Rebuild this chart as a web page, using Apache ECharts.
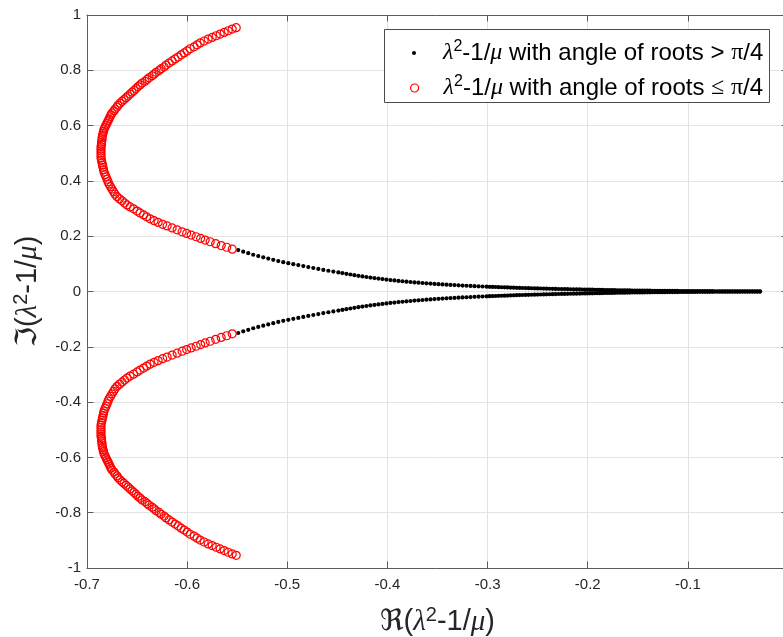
<!DOCTYPE html>
<html>
<head>
<meta charset="utf-8">
<script src="https://cdn.jsdelivr.net/npm/echarts@6/dist/echarts.min.js"></script>
<style>
html,body{margin:0;padding:0;background:#fff;}
#chart{width:783px;height:637px;}
</style>
</head>
<body>
<div id="chart"></div>
<script>
// ---------- data ----------
const xMin = -0.7, xMax = 0, xInterval = 0.1;
const yMin = -1, yMax = 1, yInterval = 0.2;

const nameDots = 'λ^2-1/μ with angle of roots > π/4';
const nameCircles = 'λ^2-1/μ with angle of roots ≤ π/4';

// black dots: real parts, and imaginary parts of the upper / lower branch
const blackRe = [
-0.549,-0.544,-0.539,-0.534,-0.529,-0.524,-0.519,-0.514,-0.509,-0.504,
-0.499,-0.494,-0.489,-0.484,-0.479,-0.474,-0.469,-0.464,-0.459,-0.454,
-0.449,
-0.445,-0.441,-0.437,-0.433,-0.429,-0.425,-0.421,-0.417,-0.413,-0.409,
-0.405,-0.401,-0.397,-0.393,-0.389,-0.385,-0.381,-0.377,-0.373,-0.369,
-0.365,-0.361,-0.357,-0.353,-0.349,-0.345,-0.341,-0.337,-0.333,-0.329,
-0.325,-0.321,-0.317,-0.313,-0.309,-0.305,-0.301,
-0.298,-0.295,-0.292,-0.289,-0.286,-0.283,-0.280,-0.277,-0.274,-0.271,
-0.268,-0.265,-0.262,-0.259,-0.256,-0.253,-0.250,-0.247,-0.244,-0.241,
-0.238,-0.235,-0.232,-0.229,-0.226,-0.223,-0.220,-0.217,-0.214,-0.211,
-0.208,
-0.2055,-0.203,-0.2005,-0.198,-0.1955,-0.193,-0.1905,-0.188,-0.1855,-0.183,
-0.1805,-0.178,-0.1755,-0.173,-0.1705,-0.168,-0.1655,-0.163,-0.1605,-0.158,
-0.1555,-0.153,-0.1505,-0.148,-0.1455,-0.143,-0.1405,-0.138,-0.1355,-0.133,
-0.1305,-0.128,-0.1255,-0.123,-0.1205,-0.118,-0.1155,-0.113,-0.1105,-0.108,
-0.1055,-0.103,-0.1005,-0.098,-0.0955,-0.093,-0.0905,-0.088,-0.0855,-0.083,
-0.0805,-0.078,-0.0755,-0.073,-0.0705,-0.068,-0.0655,-0.063,-0.0605,-0.058,
-0.0555,-0.053,-0.0505,-0.048,-0.0455,-0.043,-0.0405,-0.038,-0.0355,-0.033,
-0.0305,-0.028
];
const blackImUpper = [
0.150,0.144,0.1385,0.133,0.128,0.1235,0.119,0.1145,0.110,0.106,
0.1025,0.099,0.0955,0.092,0.0885,0.085,0.0815,0.078,0.075,0.072,
0.069,
0.0665,0.064,0.0615,0.059,0.0568,0.0546,0.0525,0.0505,0.0485,0.0466,
0.0448,0.043,0.0414,0.0399,0.0384,0.037,0.0356,0.0343,0.033,0.0318,
0.0307,0.0296,0.0285,0.0275,0.0265,0.0256,0.0247,0.0239,0.0231,0.0223,
0.0215,0.0208,0.0201,0.0194,0.0187,0.0181,0.0175,
0.0170,0.0166,0.0162,0.0158,0.0154,0.0150,0.0146,0.0142,0.0138,0.0134,
0.0130,0.0127,0.0124,0.0121,0.0118,0.0115,0.0112,0.0109,0.0106,0.0103,
0.0100,0.0097,0.0094,0.0091,0.0089,0.0087,0.0084,0.0082,0.0079,0.0077,
0.0075,
0.0073,0.0071,0.0069,0.0067,0.0065,0.0063,0.0061,0.0059,0.0057,0.0055,
0.0053,0.0051,0.0050,0.0048,0.0046,0.0045,0.0043,0.0042,0.0040,0.0039,
0.0037,0.0036,0.0035,0.0033,0.0032,0.0031,0.0030,0.0029,0.0028,0.0027,
0.0026,0.0025,0.0024,0.0023,0.0022,0.0021,0.0020,0.0019,0.0019,0.0018,
0.0017,0.0016,0.0016,0.0015,0.0014,0.0014,0.0013,0.0012,0.0012,0.0011,
0.0011,0.0010,0.0010,0.0009,0.0009,0.0008,0.0008,0.0007,0.0007,0.0006,
0.0006,0.0006,0.0005,0.0005,0.0004,0.0004,0.0004,0.0003,0.0003,0.0003,
0.0003,0.0002
];
const blackImLower = [
-0.150,-0.144,-0.1385,-0.133,-0.128,-0.1235,-0.119,-0.1145,-0.110,-0.106,
-0.1025,-0.099,-0.0955,-0.092,-0.0885,-0.085,-0.0815,-0.078,-0.075,-0.072,
-0.069,
-0.0665,-0.064,-0.0615,-0.059,-0.0568,-0.0546,-0.0525,-0.0505,-0.0485,-0.0466,
-0.0448,-0.043,-0.0414,-0.0399,-0.0384,-0.037,-0.0356,-0.0343,-0.033,-0.0318,
-0.0307,-0.0296,-0.0285,-0.0275,-0.0265,-0.0256,-0.0247,-0.0239,-0.0231,-0.0223,
-0.0215,-0.0208,-0.0201,-0.0194,-0.0187,-0.0181,-0.0175,
-0.0170,-0.0166,-0.0162,-0.0158,-0.0154,-0.0150,-0.0146,-0.0142,-0.0138,-0.0134,
-0.0130,-0.0127,-0.0124,-0.0121,-0.0118,-0.0115,-0.0112,-0.0109,-0.0106,-0.0103,
-0.0100,-0.0097,-0.0094,-0.0091,-0.0089,-0.0087,-0.0084,-0.0082,-0.0079,-0.0077,
-0.0075,
-0.0073,-0.0071,-0.0069,-0.0067,-0.0065,-0.0063,-0.0061,-0.0059,-0.0057,-0.0055,
-0.0053,-0.0051,-0.0050,-0.0048,-0.0046,-0.0045,-0.0043,-0.0042,-0.0040,-0.0039,
-0.0037,-0.0036,-0.0035,-0.0033,-0.0032,-0.0031,-0.0030,-0.0029,-0.0028,-0.0027,
-0.0026,-0.0025,-0.0024,-0.0023,-0.0022,-0.0021,-0.0020,-0.0019,-0.0019,-0.0018,
-0.0017,-0.0016,-0.0016,-0.0015,-0.0014,-0.0014,-0.0013,-0.0012,-0.0012,-0.0011,
-0.0011,-0.0010,-0.0010,-0.0009,-0.0009,-0.0008,-0.0008,-0.0007,-0.0007,-0.0006,
-0.0006,-0.0006,-0.0005,-0.0005,-0.0004,-0.0004,-0.0004,-0.0003,-0.0003,-0.0003,
-0.0003,-0.0002
];

// red circles: real parts, and imaginary parts of the upper / lower branch
const redRe = [
-0.551,-0.555,-0.559,-0.563,-0.567,-0.571,-0.575,-0.579,-0.583,-0.587,
-0.590,-0.593,-0.597,-0.600,-0.603,-0.606,-0.609,-0.612,-0.615,-0.618,
-0.621,-0.623,-0.626,-0.628,-0.631,-0.633,-0.635,-0.638,-0.640,-0.642,
-0.645,-0.647,-0.649,-0.651,-0.653,-0.655,-0.657,-0.659,-0.661,-0.663,
-0.665,-0.667,-0.669,-0.670,-0.672,-0.673,-0.675,-0.676,-0.677,-0.678,
-0.679,-0.680,-0.681,-0.682,-0.683,-0.6835,-0.684,-0.6845,-0.685,-0.685,
-0.6855,-0.6855,-0.686,-0.686,-0.686,-0.686,-0.686,-0.686,-0.6855,-0.685,
-0.6845,-0.684,-0.6835,-0.683,-0.682,-0.681,-0.680,-0.679,-0.678,-0.6765,
-0.675,-0.6735,-0.672,-0.670,-0.6675,-0.665,-0.6625,-0.660,-0.657,-0.6535,
-0.650,-0.647,-0.6435,-0.6405,-0.637,-0.633,-0.629,-0.6245,-0.620,-0.615,
-0.610,-0.605,-0.6005,-0.596,-0.591,-0.5865,-0.582,-0.577,-0.5715,-0.566,
-0.5605,-0.555
];
const redImUpper = [
0.954,0.949,0.943,0.937,0.931,0.925,0.919,0.913,0.906,0.899,
0.892,0.885,0.878,0.870,0.863,0.856,0.848,0.841,0.834,0.826,
0.819,0.812,0.806,0.799,0.793,0.786,0.780,0.773,0.767,0.760,
0.754,0.747,0.741,0.734,0.727,0.721,0.714,0.707,0.701,0.694,
0.688,0.681,0.674,0.667,0.660,0.653,0.646,0.639,0.632,0.624,
0.617,0.609,0.602,0.594,0.587,0.579,0.572,0.564,0.556,0.548,
0.540,0.532,0.524,0.516,0.508,0.500,0.491,0.483,0.474,0.466,
0.457,0.449,0.440,0.432,0.423,0.415,0.406,0.397,0.388,0.379,
0.370,0.361,0.352,0.343,0.335,0.328,0.320,0.313,0.306,0.299,
0.291,0.284,0.277,0.270,0.263,0.256,0.250,0.243,0.237,0.230,
0.223,0.216,0.210,0.204,0.198,0.192,0.186,0.180,0.173,0.166,
0.160,0.153
];
const redImLower = [
-0.954,-0.949,-0.943,-0.937,-0.931,-0.925,-0.919,-0.913,-0.906,-0.899,
-0.892,-0.885,-0.878,-0.870,-0.863,-0.856,-0.848,-0.841,-0.834,-0.826,
-0.819,-0.812,-0.806,-0.799,-0.793,-0.786,-0.780,-0.773,-0.767,-0.760,
-0.754,-0.747,-0.741,-0.734,-0.727,-0.721,-0.714,-0.707,-0.701,-0.694,
-0.688,-0.681,-0.674,-0.667,-0.660,-0.653,-0.646,-0.639,-0.632,-0.624,
-0.617,-0.609,-0.602,-0.594,-0.587,-0.579,-0.572,-0.564,-0.556,-0.548,
-0.540,-0.532,-0.524,-0.516,-0.508,-0.500,-0.491,-0.483,-0.474,-0.466,
-0.457,-0.449,-0.440,-0.432,-0.423,-0.415,-0.406,-0.397,-0.388,-0.379,
-0.370,-0.361,-0.352,-0.343,-0.335,-0.328,-0.320,-0.313,-0.306,-0.299,
-0.291,-0.284,-0.277,-0.270,-0.263,-0.256,-0.250,-0.243,-0.237,-0.230,
-0.223,-0.216,-0.210,-0.204,-0.198,-0.192,-0.186,-0.180,-0.173,-0.166,
-0.160,-0.153
];

// ---------- build ----------
function zip(re, im) { return re.map((x, i) => [x, im[i]]); }
const dotData = zip(blackRe, blackImUpper).concat(zip(blackRe, blackImLower));
const circleData = zip(redRe, redImUpper).concat(zip(redRe, redImLower));

const SANS = '"Liberation Sans", Arial, Helvetica, sans-serif';
const SERIF = '"Liberation Serif", "DejaVu Serif", serif';
const AX = '#262626';
const AXLINE = '#5c5c5c';
const GRID = '#e3e3e3';

function richSet(fs, lh, color) {
  const sfs = Math.round(fs * 0.68);
  return {
    f: { fontFamily: '"DejaVu Sans", sans-serif', fontSize: fs, lineHeight: lh, color: color },
    g: { fontFamily: SERIF, fontStyle: 'italic', fontSize: fs, lineHeight: lh, color: color },
    p: { fontFamily: SERIF, fontSize: fs, lineHeight: lh, color: color },
    s: { fontFamily: SANS, fontSize: sfs, lineHeight: sfs, verticalAlign: 'top', color: color },
    t: { fontFamily: SANS, fontSize: fs, lineHeight: lh, color: color }
  };
}
function legendText(name) {
  const rel = name === nameDots ? '{t|>}' : '{p|≤}';
  return '{g|λ}{s|2}{t|-1/}{g|μ}{t| with angle of roots }' + rel + '{t| }{p|π}{t|/4}';
}

const baseAxis = {
  type: 'value',
  axisLine: { show: true, onZero: false, lineStyle: { color: AXLINE, width: 1 } },
  axisTick: { show: true, inside: true, length: 6.5, lineStyle: { color: AXLINE, width: 1 } },
  splitLine: { show: false }
};

const legendTextStyle = {
  fontFamily: SANS, fontSize: 24, color: '#000', lineHeight: 28,
  width: 322, overflow: 'none',
  rich: richSet(24, 28, '#000')
};

const chart = echarts.init(document.getElementById('chart'), null, { renderer: 'canvas' });
chart.setOption({
  animation: false,
  backgroundColor: '#fff',
  grid: { left: 87, right: -5, top: 15, bottom: 69, containLabel: false, outerBoundsMode: 'none' },
  xAxis: [
    Object.assign({}, baseAxis, {
      position: 'bottom', min: xMin, max: xMax, interval: xInterval,
      axisLabel: { show: true, fontFamily: SANS, fontSize: 15, color: AX, margin: 9 },
      splitLine: { show: true, lineStyle: { color: GRID, width: 1 } },
      name: '{f|ℜ}{t|(}{g|λ}{s|2}{t|-1/}{g|μ}{t|)}',
      nameLocation: 'middle', nameGap: 37,
      nameTextStyle: { fontFamily: SANS, fontSize: 29, color: AX, rich: richSet(29, 34, AX) }
    }),
    Object.assign({}, baseAxis, {
      position: 'top', min: xMin, max: xMax, interval: xInterval,
      axisLabel: { show: false }
    })
  ],
  yAxis: [
    Object.assign({}, baseAxis, {
      position: 'left', min: yMin, max: yMax, interval: yInterval,
      axisLabel: { show: true, fontFamily: SANS, fontSize: 15, color: AX, margin: 6 },
      splitLine: { show: true, lineStyle: { color: GRID, width: 1 } },
      name: '{f|ℑ}{t|(}{g|λ}{s|2}{t|-1/}{g|μ}{t|)}',
      nameLocation: 'middle', nameGap: 42,
      nameTextStyle: { fontFamily: SANS, fontSize: 29, color: AX, rich: richSet(29, 34, AX) }
    }),
    Object.assign({}, baseAxis, {
      position: 'right', min: yMin, max: yMax, interval: yInterval,
      axisLabel: { show: false }
    })
  ],
  graphic: [{
    type: 'rect', z: 3, silent: true,
    shape: { x: 384.5, y: 29.5, width: 385, height: 73 },
    style: { fill: '#fff', stroke: '#4a4a4a', lineWidth: 1 }
  }],
  legend: [
    {
      data: [{ name: nameDots, icon: 'circle', itemStyle: { color: '#000', borderWidth: 0 } }],
      orient: 'vertical', left: 412, top: 39, padding: 0, z: 5,
      itemWidth: 48, itemHeight: 4, selectedMode: false,
      formatter: legendText, textStyle: legendTextStyle
    },
    {
      data: [{ name: nameCircles, icon: 'circle', itemStyle: { color: 'rgba(0,0,0,0)', borderColor: '#ff0000', borderWidth: 1.2 } }],
      orient: 'vertical', left: 410, top: 74, padding: 0, z: 5,
      itemWidth: 48, itemHeight: 8, selectedMode: false,
      formatter: legendText, textStyle: legendTextStyle
    }
  ],
  series: [
    {
      name: nameDots, type: 'scatter', xAxisIndex: 0, yAxisIndex: 0,
      symbol: 'circle', symbolSize: 4.2, z: 2,
      itemStyle: { color: '#000', opacity: 1 },
      emphasis: { disabled: true },
      data: dotData
    },
    {
      name: nameCircles, type: 'scatter', xAxisIndex: 0, yAxisIndex: 0,
      symbol: 'circle', symbolSize: 8, z: 2,
      itemStyle: { color: 'rgba(0,0,0,0)', borderColor: '#ff0000', borderWidth: 1.2, opacity: 1 },
      emphasis: { disabled: true },
      data: circleData
    }
  ]
});
</script>
</body>
</html>
